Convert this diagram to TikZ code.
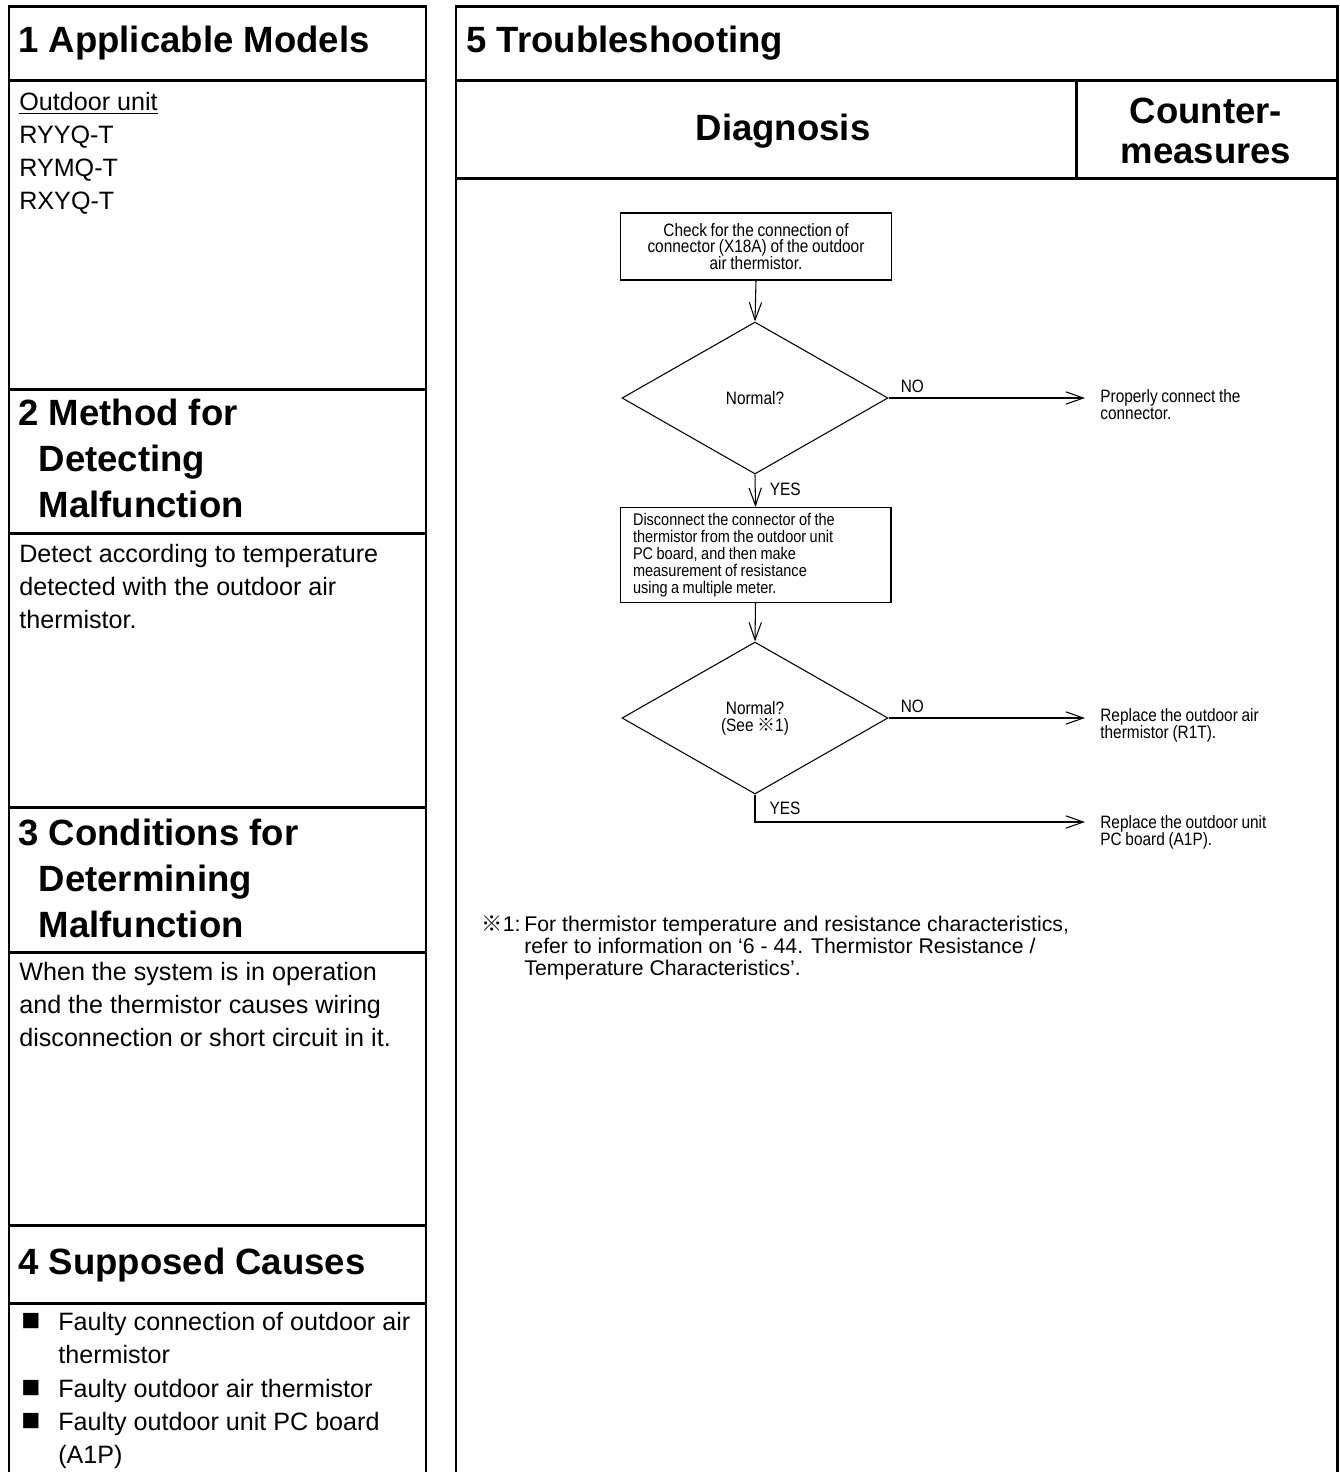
\documentclass[tikz,border=0pt]{standalone}
\usepackage{fontspec}
\setmainfont{Liberation Sans}
\newfontfamily\narrowfont[FakeStretch=0.86, WordSpace=0.86]{Liberation Sans}
\newfontfamily\cjk{Noto Sans CJK JP}
\usetikzlibrary{shapes.geometric,arrows.meta}

\newcommand{\refmark}{{\cjk ※}}

\begin{document}
\begin{tikzpicture}[x=0.02cm, y=-0.02cm,
  rule/.style={line width=1.7pt, line cap=rect},
  head/.style={font=\fontsize{20.8}{26}\selectfont\bfseries, anchor=base west, inner sep=0, align=left},
  body/.style={font=\fontsize{14.3}{18.7}\selectfont, anchor=base west, inner sep=0, align=left},
  note/.style={font=\fontsize{12.1}{12.5}\selectfont, anchor=base west, inner sep=0, align=left},
  flow/.style={font=\narrowfont\fontsize{10.2}{9.6}\selectfont},
  stepbox/.style={draw, line width=0.6pt, flow, minimum width=5.42cm},
  check/.style={draw, diamond, line width=0.6pt, flow, align=center, aspect=1.75, inner sep=0, minimum width=5.32cm, minimum height=3.04cm},
  link/.style={line width=0.6pt, -{Straight Barb[length=10pt, width=7pt]}},
  answer/.style={flow, align=left, anchor=west, inner sep=0},
  tag/.style={flow, inner sep=0}]
\useasboundingbox (0,0) rectangle (1340,1472);

% left column frame
\draw[rule] (9,1472) -- (9,6) -- (426,6) -- (426,1472);
\foreach \y in {80,389,533,807,952,1225,1303}
  \draw[rule] (9,\y) -- (426,\y);

% right column frame
\draw[rule] (456,1472) -- (456,6) -- (1337,6) -- (1337,1472);
\draw[rule] (456,80) -- (1337,80);
\draw[rule] (456,178) -- (1337,178);
\draw[rule] (1076,80) -- (1076,178);

% section texts (multi-line nodes sit on the baseline of their last line)
\node[head] (h1) at (18,52) {1 Applicable Models};
\node[body] (models) at (19,209) {\underline{Outdoor unit}\\RYYQ-T\\RYMQ-T\\RXYQ-T};
\node[head] (h2) at (18,517) {2 Method for\\\phantom{2}Detecting\\\phantom{2}Malfunction};
\node[body] (detect) at (19,628) {Detect according to temperature\\detected with the outdoor air\\thermistor.};
\node[head] (h3) at (18,937) {3 Conditions for\\\phantom{3}Determining\\\phantom{3}Malfunction};
\node[body] (cond) at (19,1046) {When the system is in operation\\and the thermistor causes wiring\\disconnection or short circuit in it.};
\node[head] (h4) at (18,1274) {4 Supposed Causes};
\foreach \y/\n in {1330/1,1397/2,1430/3}
  \node[body, font=\fontsize{18}{18}\selectfont] (dot\n) at (21,\y) {■};
\node[body] (cause1) at (58,1363) {Faulty connection of outdoor air\\thermistor};
\node[body] (cause2) at (58,1397) {Faulty outdoor air thermistor};
\node[body] (cause3) at (58,1463) {Faulty outdoor unit PC board\\(A1P)};

\node[head] (h5) at (466,52) {5 Troubleshooting};
\node[head, anchor=base] (diag) at (783,140) {Diagnosis};
\node[head, anchor=center, align=center, font=\fontsize{20.8}{22.7}\selectfont\bfseries] (cm) at (1206,131) {Counter-\\measures};

% flow chart
\node[stepbox, align=center, minimum height=1.34cm] (chk) at (756,246.5)
  {Check for the connection of\\connector (X18A) of the outdoor\\air thermistor.};
\node[check] (q1) at (755,398) {Normal?};
\node[stepbox, align=flush left, text width=4.9cm, inner xsep=0.26cm, minimum height=1.8cm,
  font=\narrowfont\fontsize{9.6}{9.6}\selectfont] (meas) at (755.5,555)
  {Disconnect the connector of the\\thermistor from the outdoor unit\\PC board, and then make\\measurement of resistance\\using a multiple meter.};
\node[check] (q2) at (755,718) {Normal?\\(See \refmark1)};

\coordinate (fix1) at (1085,398);
\coordinate (fix2) at (1085,718);
\coordinate (fix3) at (1085,822);

\draw[link] (chk.south) -- (q1.north);
\draw[link] (q1.east) -- node[tag, anchor=south west, pos=0.06, yshift=3pt] {NO} (fix1);
\draw[link] (q1.south) -- node[tag, anchor=west, pos=0.45, xshift=8pt] {YES} (meas.north);
\draw[link] (meas.south) -- (q2.north);
\draw[link] (q2.east) -- node[tag, anchor=south west, pos=0.06, yshift=3pt] {NO} (fix2);
\draw[link] (q2.south) |- node[tag, anchor=west, pos=0.25, xshift=8pt] {YES} (fix3);

\node[answer] (a1) at (1100,405) {Properly connect the\\connector.};
\node[answer] (a2) at (1100,725) {Replace the outdoor air\\thermistor (R1T).};
\node[answer] (a3) at (1100,832) {Replace the outdoor unit\\PC board (A1P).};

\node[note, anchor=base east] (mark) at (521,931) {\refmark1:};
\node[note] (fn) at (524,975) {For thermistor temperature and resistance characteristics,\\refer to information on `6 - 44. Thermistor Resistance /\\Temperature Characteristics'.};
\end{tikzpicture}
\end{document}
